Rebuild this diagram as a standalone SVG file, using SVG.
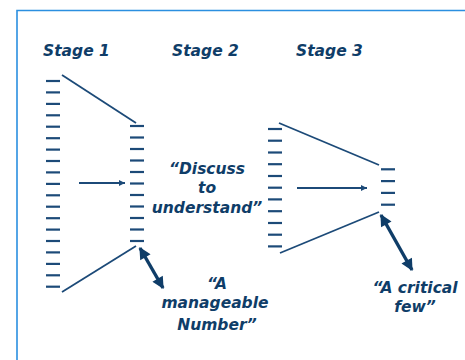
<svg xmlns="http://www.w3.org/2000/svg" width="465" height="360" viewBox="0 0 465 360">
<defs>
<style>
.t{font-family:"DejaVu Sans",Verdana,sans-serif;font-weight:bold;font-style:italic;font-size:15.5px;fill:#0f3d68}
.l{font-family:"DejaVu Sans",Verdana,sans-serif;font-weight:bold;font-style:italic;font-size:15.5px;fill:#0f3d68;text-anchor:middle}
.d{stroke:#1c4a78;stroke-width:2.2}
.ln{stroke:#1c4a78;stroke-width:1.8;fill:none}
.thick{stroke:#0f3d68;stroke-width:3.4;fill:none}
</style>
<marker id="ah" viewBox="0 0 10 10" refX="10" refY="5" markerWidth="8" markerHeight="6" markerUnits="userSpaceOnUse" orient="auto"><path d="M0,0 L10,5 L0,10 z" fill="#1c4a78"/></marker>
<marker id="bh" viewBox="0 0 10 10" refX="9" refY="5" markerWidth="13" markerHeight="12" markerUnits="userSpaceOnUse" orient="auto-start-reverse"><path d="M0,0 L10,5 L0,10 z" fill="#0f3d68"/></marker>
<g id="dash"><line class="d" x1="0" y1="0" x2="14" y2="0"/></g>
</defs>
<rect width="465" height="360" fill="#ffffff"/>
<g id="frame" fill="none" stroke="#2b8fe0" stroke-width="1.6">
<path d="M17,360 L17,10.5 L465,10.5"/>
</g>
<g id="titles">
<text class="t" x="43" y="56">Stage 1</text>
<text class="t" x="172" y="56">Stage 2</text>
<text class="t" x="296" y="56">Stage 3</text>
</g>
<g id="stage1">
<use href="#dash" x="46" y="81"/><use href="#dash" x="46" y="92.4"/><use href="#dash" x="46" y="103.9"/><use href="#dash" x="46" y="115.3"/><use href="#dash" x="46" y="126.7"/><use href="#dash" x="46" y="138.2"/><use href="#dash" x="46" y="149.6"/><use href="#dash" x="46" y="161"/><use href="#dash" x="46" y="172.4"/><use href="#dash" x="46" y="183.9"/><use href="#dash" x="46" y="195.3"/><use href="#dash" x="46" y="206.7"/><use href="#dash" x="46" y="218.2"/><use href="#dash" x="46" y="229.6"/><use href="#dash" x="46" y="241"/><use href="#dash" x="46" y="252.4"/><use href="#dash" x="46" y="263.9"/><use href="#dash" x="46" y="275.3"/><use href="#dash" x="46" y="286.7"/>
</g>
<g id="stage2">
<use href="#dash" x="130" y="126"/><use href="#dash" x="130" y="137.5"/><use href="#dash" x="130" y="149"/><use href="#dash" x="130" y="160.5"/><use href="#dash" x="130" y="172"/><use href="#dash" x="130" y="183.5"/><use href="#dash" x="130" y="195"/><use href="#dash" x="130" y="206.5"/><use href="#dash" x="130" y="218"/><use href="#dash" x="130" y="229.5"/><use href="#dash" x="130" y="241"/>
</g>
<g id="stage3a">
<use href="#dash" x="268" y="129"/><use href="#dash" x="268" y="140.7"/><use href="#dash" x="268" y="152.5"/><use href="#dash" x="268" y="164.2"/><use href="#dash" x="268" y="176"/><use href="#dash" x="268" y="187.7"/><use href="#dash" x="268" y="199.4"/><use href="#dash" x="268" y="211.2"/><use href="#dash" x="268" y="223"/><use href="#dash" x="268" y="234.7"/><use href="#dash" x="268" y="246.4"/>
</g>
<g id="stage3b">
<use href="#dash" x="381" y="169.3"/><use href="#dash" x="381" y="181.1"/><use href="#dash" x="381" y="192.9"/><use href="#dash" x="381" y="204.7"/>
</g>
<g id="connectors">
<line class="ln" x1="62" y1="75" x2="136" y2="123"/>
<line class="ln" x1="62" y1="292" x2="136" y2="246"/>
<line class="ln" x1="279" y1="123" x2="379" y2="165"/>
<line class="ln" x1="280" y1="253" x2="379" y2="212"/>
<line class="ln" x1="79" y1="183" x2="125" y2="183" marker-end="url(#ah)" stroke-width="1.6"/>
<line class="ln" x1="297" y1="188" x2="367" y2="188" marker-end="url(#ah)" stroke-width="1.6"/>
<line class="thick" x1="140" y1="248" x2="163" y2="288" marker-start="url(#bh)" marker-end="url(#bh)"/>
<line class="thick" x1="381" y1="215" x2="412" y2="270" marker-start="url(#bh)" marker-end="url(#bh)"/>
</g>
<g id="labels">
<text class="l" x="207" y="174">“Discuss</text>
<text class="l" x="207" y="193">to</text>
<text class="l" x="207" y="213">understand”</text>
<text class="l" x="217" y="289">“A</text>
<text class="l" x="215" y="308">manageable</text>
<text class="l" x="217" y="330">Number”</text>
<text class="l" x="415" y="293">“A critical</text>
<text class="l" x="415" y="312">few”</text>
</g>
</svg>
